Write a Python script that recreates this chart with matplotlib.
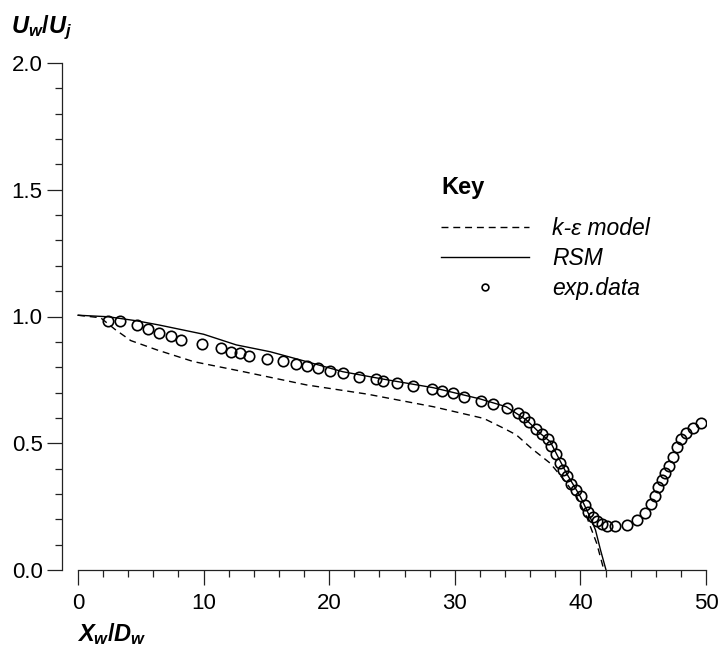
import numpy as np
import matplotlib
matplotlib.use("Agg")
import matplotlib.pyplot as plt
from matplotlib.ticker import MultipleLocator

plt.rcParams['font.family'] = ['Liberation Sans', 'DejaVu Sans']
plt.rcParams['mathtext.fontset'] = 'custom'
plt.rcParams['mathtext.it'] = 'Liberation Sans:bold:italic'
plt.rcParams['mathtext.rm'] = 'Liberation Sans:bold'

# experimental data (circles)
exp_x = [2.41, 3.34, 4.67, 5.6, 6.47, 7.38, 8.2, 9.85, 11.36, 12.18, 12.9, 13.64,
         15.02, 16.35, 17.33, 18.26, 19.13, 20.06, 21.12, 22.37, 23.73, 24.31,
         25.42, 26.7, 28.16, 29.0, 29.83, 30.73, 32.06, 33.07,
         34.18, 35.06, 35.51, 35.93, 36.46, 36.92, 37.4, 37.64, 38.06, 38.38,
         38.59, 38.91, 39.25, 39.65, 40.02, 40.37, 40.63, 40.98, 41.35, 41.70,
         42.09, 42.75, 43.69, 44.48, 45.14, 45.6, 45.94, 46.15, 46.47, 46.74,
         47.08, 47.4, 47.71, 48.01, 48.41, 48.99, 49.58]
exp_y = [0.983, 0.981, 0.966, 0.951, 0.934, 0.924, 0.906, 0.892, 0.875, 0.860, 0.855, 0.844,
         0.832, 0.824, 0.814, 0.806, 0.796, 0.786, 0.778, 0.763, 0.752, 0.746,
         0.736, 0.726, 0.715, 0.706, 0.700, 0.684, 0.667, 0.654,
         0.638, 0.621, 0.605, 0.585, 0.556, 0.536, 0.518, 0.489, 0.458, 0.423,
         0.394, 0.371, 0.339, 0.316, 0.293, 0.256, 0.230, 0.210, 0.193, 0.181,
         0.175, 0.174, 0.178, 0.196, 0.226, 0.259, 0.292, 0.326, 0.355, 0.381,
         0.410, 0.447, 0.486, 0.516, 0.539, 0.559, 0.579]

# RSM prediction (solid)
rsm_x = [0, 2.4, 4.67, 6.5, 10.0, 12.6, 15.3, 18.2, 21.1, 24.3, 28.3, 32.0, 34.1,
         35.7, 36.8, 37.6, 38.9, 40.0, 40.76, 41.2, 41.6, 42.04]
rsm_y = [1.005, 0.999, 0.983, 0.966, 0.930, 0.888, 0.861, 0.822, 0.782, 0.753, 0.719,
         0.675, 0.644, 0.592, 0.539, 0.506, 0.381, 0.289, 0.210, 0.158, 0.079, 0.0]

# k-epsilon prediction (dashed)
ke_x = [0, 1.8, 2.95, 4.2, 6.3, 9.2, 13.2, 18.2, 23.0, 28.3, 32.3, 33.9, 34.9, 36.1,
        37.6, 38.7, 39.7, 40.5, 41.3, 41.8, 42.0]
ke_y = [1.005, 0.995, 0.949, 0.905, 0.868, 0.822, 0.782, 0.730, 0.694, 0.644, 0.598,
        0.559, 0.533, 0.48, 0.421, 0.355, 0.289, 0.210, 0.105, 0.013, 0.0]

fig = plt.figure(figsize=(7.2, 6.47), dpi=100)
ax = fig.add_axes([62 / 720, 1 - 570 / 647, (706 - 62) / 720, (570 - 63) / 647])

ax.plot(ke_x, ke_y, color='black', lw=1.0, dashes=(5, 3.5), label=u'k-\u03b5 model')
ax.plot(rsm_x, rsm_y, color='black', lw=1.0, label='RSM')
ax.plot(exp_x, exp_y, 'o', mfc='none', mec='black', ms=7.5, mew=1.2, label='exp.data')

x0 = -(78 - 62) / ((706 - 78) / 50.0)
ax.set_xlim(x0, 50)
ax.set_ylim(0, 2.0)

for s in ['top', 'right']:
    ax.spines[s].set_visible(False)
ax.spines['left'].set_bounds(0, 2.0)
ax.spines['bottom'].set_bounds(0, 50)
for s in ['left', 'bottom']:
    ax.spines[s].set_linewidth(0.9)
    ax.spines[s].set_color('#222222')

ax.xaxis.set_major_locator(MultipleLocator(10))
ax.xaxis.set_minor_locator(MultipleLocator(2))
ax.yaxis.set_major_locator(MultipleLocator(0.5))
ax.yaxis.set_minor_locator(MultipleLocator(0.1))
ax.yaxis.set_major_formatter(plt.FormatStrFormatter('%.1f'))
ax.tick_params(which='major', direction='out', length=10.5, width=0.9, labelsize=16,
               color='#222222', pad=3.5)
ax.tick_params(which='minor', direction='out', length=5, width=0.9, color='#222222')
ax.tick_params(axis='x', which='major', pad=6)

fig.text(11 / 720, 1 - 33 / 647, r'$U_w/U_j$', fontsize=17, va='baseline')
fig.text(77 / 720, 1 - 641 / 647, r'$X_w/D_w$', fontsize=17, va='baseline')

leg = ax.legend(loc='upper left', bbox_to_anchor=(441 / 720, 1 - 176 / 647),
                bbox_transform=fig.transFigure, frameon=False, title='Key',
                prop={'style': 'italic', 'size': 16.5},
                title_fontproperties={'weight': 'bold', 'size': 17},
                alignment='left', handlelength=3.85, handletextpad=1.0,
                labelspacing=0.3, borderpad=0, borderaxespad=0, markerscale=0.65)
leg._legend_box.sep = 13

fig.savefig('out.png', dpi=100)
